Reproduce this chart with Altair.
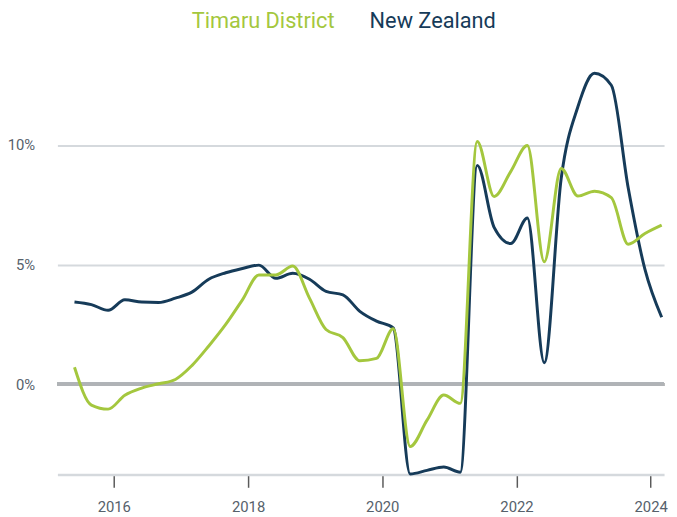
import altair as alt
import pandas as pd

dates = [
    "2015-06-01", "2015-09-01", "2015-12-01",
    "2016-03-01", "2016-06-01", "2016-09-01", "2016-12-01",
    "2017-03-01", "2017-06-01", "2017-09-01", "2017-12-01",
    "2018-03-01", "2018-06-01", "2018-09-01", "2018-12-01",
    "2019-03-01", "2019-06-01", "2019-09-01", "2019-12-01",
    "2020-03-01", "2020-06-01", "2020-09-01", "2020-12-01",
    "2021-03-01", "2021-06-01", "2021-09-01", "2021-12-01",
    "2022-03-01", "2022-06-01", "2022-09-01", "2022-12-01",
    "2023-03-01", "2023-06-01", "2023-09-01", "2023-12-01",
    "2024-03-01",
]

timaru = [0.71, -0.87, -1.04,
          -0.46, -0.16, 0.02, 0.20,
          0.78, 1.60, 2.50, 3.53,
          4.57, 4.57, 4.94, 3.60,
          2.29, 1.95, 0.98, 1.08,
          2.32, -2.60, -1.50, -0.45,
          -0.80, 10.15, 7.85, 8.90,
          9.98, 5.12, 9.02, 7.87,
          8.07, 7.80, 5.85, 6.30,
          6.65]

nz = [3.44, 3.33, 3.09,
      3.53, 3.44, 3.42, 3.60,
      3.85, 4.39, 4.66, 4.84,
      4.98, 4.43, 4.64, 4.39,
      3.88, 3.74, 3.05, 2.64,
      2.36, -3.75, -3.60, -3.46,
      -3.68, 9.15, 6.56, 5.88,
      6.95, 0.90, 8.60, 11.60,
      13.00, 12.50, 8.20, 4.80,
      2.80]

series_names = ["Timaru District", "New Zealand"]
series_colors = ["#A4C73E", "#163B59"]
y_ticks = [0, 5, 10]
x_tick_years = [2016, 2018, 2020, 2022, 2024]

df = pd.concat([
    pd.DataFrame({"date": dates, "value": nz, "series": "New Zealand"}),
    pd.DataFrame({"date": dates, "value": timaru, "series": "Timaru District"}),
])

label_color = "#56616b"
grid_color = "#d5d9dd"

x_enc = alt.X(
    "date:T",
    title=None,
    scale=alt.Scale(domain=[alt.DateTime(year=2015, month=2, date=28),
                            alt.DateTime(year=2024, month=3, date=14)]),
    axis=alt.Axis(
        values=[alt.DateTime(year=y, month=1, date=1) for y in x_tick_years],
        format="%Y", grid=False,
        domainColor=grid_color, domainWidth=2.5,
        tickColor="#5a5a5a", tickSize=13, tickWidth=1.5,
        labelColor=label_color, labelFont="Roboto", labelFontSize=15,
        labelPadding=13, labelFlush=False,
    ),
)

y_enc = alt.Y(
    "value:Q",
    title=None,
    scale=alt.Scale(domain=[-3.77, 13.0], nice=False, zero=False),
    axis=alt.Axis(
        values=y_ticks, labelExpr="datum.value + '%'",
        domain=False, ticks=False,
        grid=True, gridColor=grid_color, gridWidth=2,
        labelColor=label_color, labelFont="Roboto", labelFontSize=15,
        labelPadding=23,
    ),
)

zero_rule = alt.Chart(df).mark_rule(color="#b0b3b6", strokeWidth=3).encode(
    y=alt.datum(0)
)

lines = alt.Chart(df).mark_line(interpolate="monotone", strokeWidth=3).encode(
    x=x_enc,
    y=y_enc,
    color=alt.Color(
        "series:N",
        scale=alt.Scale(domain=series_names, range=series_colors),
        legend=alt.Legend(
            title=None, orient="none", direction="horizontal",
            legendX=114, legendY=-64,
            symbolSize=0, symbolStrokeWidth=0, symbolOpacity=0,
            labelOffset=0, columnPadding=13,
            labelFont="Roboto", labelFontSize=22, labelLimit=400,
        ),
    ),
    detail="series:N",
)

chart = alt.layer(zero_rule, lines).properties(
    width=614, height=406,
    autosize=alt.AutoSizeParams(type="none"),
    padding={"left": 50, "top": 63, "right": 5, "bottom": 40},
    background="white",
).configure_view(stroke=None)

# colour each legend label like its series (Vega-Lite legend encoding)
label_fill = {
    "labels": {
        "fill": {
            "condition": {"test": "datum.value === '%s'" % series_names[1],
                          "value": series_colors[1]},
            "value": series_colors[0],
        }
    }
}
spec = chart.to_dict()
for lyr in spec.get("layer", []):
    col = lyr.get("encoding", {}).get("color")
    if col and "legend" in col:
        col["legend"]["encoding"] = label_fill


class _SpecChart(alt.LayerChart):
    def to_dict(self, *args, **kwargs):
        return spec


object.__setattr__(chart, "__class__", _SpecChart)

chart.save("out.html", embed_options={"renderer": "svg", "actions": False})
